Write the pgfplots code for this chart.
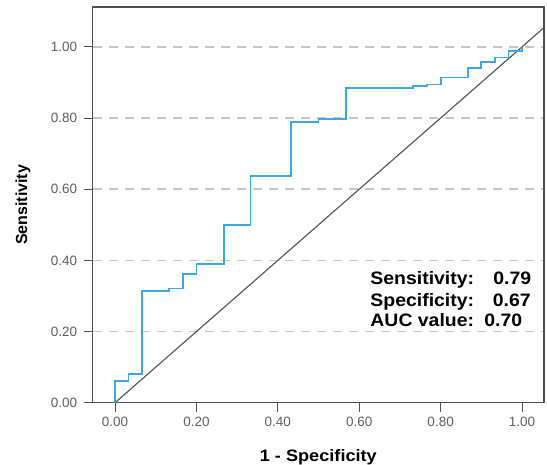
\documentclass[border=0pt]{standalone}
\usepackage{pgfplots}
\pgfplotsset{compat=1.18}
\usepackage{fontspec}
\setmainfont{Liberation Sans}
\definecolor{roc}{RGB}{62,168,228}
\definecolor{tickgray}{RGB}{95,95,95}
\definecolor{framegray}{RGB}{80,80,80}
\newcommand{\wide}[1]{\scalebox{1.1}[1]{#1}}
\begin{document}
\begin{tikzpicture}
\path[use as bounding box] (-92.7pt,-62.3pt) rectangle (454.3pt,402.7pt);
\begin{axis}[
    scale only axis,
    width=451.3pt,
    height=395.7pt,
    xmin=-0.055, xmax=1.054,
    ymin=0, ymax=1.112,
    xtick={0,0.2,0.4,0.6,0.8,1},
    ytick={0,0.2,0.4,0.6,0.8,1},
    xtick pos=bottom,
    ytick pos=left,
    tick align=outside,
    major tick length=9pt,
    tick style={framegray, line width=0.9pt},
    axis line style={framegray, line width=1.4pt},
    ymajorgrids,
    grid style={gray!45, line width=1.4pt, dash pattern=on 9pt off 7pt},
    ticklabel style={font=\fontsize{13.5}{15}\selectfont, text=tickgray},
    xticklabel style={yshift=-2pt},
    yticklabel style={xshift=-3pt},
    /pgf/number format/fixed,
    /pgf/number format/fixed zerofill,
    /pgf/number format/precision=2,
    /pgf/number format/assume math mode=true,
    xlabel={\wide{1 - Specificity}},
    ylabel={Sensitivity},
    xlabel style={font=\bfseries\fontsize{16.5}{18}\selectfont,
        at={(axis description cs:0.5,-0.137)}, anchor=center},
    ylabel style={font=\bfseries\fontsize{16}{18}\selectfont,
        at={(axis description cs:-0.1545,0.5)}, anchor=center},
]

% reference line
\addplot[framegray, line width=1.1pt] coordinates {(0,0) (1.06,1.06)};

% ROC curve
\addplot[const plot, roc, line width=1.8pt] coordinates {
    (0,0)
    (0,0.062)
    (0.033,0.080)
    (0.067,0.315)
    (0.133,0.321)
    (0.167,0.361)
    (0.200,0.390)
    (0.267,0.499)
    (0.333,0.638)
    (0.433,0.788)
    (0.500,0.797)
    (0.567,0.885)
    (0.733,0.889)
    (0.767,0.894)
    (0.800,0.914)
    (0.867,0.941)
    (0.900,0.958)
    (0.933,0.970)
    (0.967,0.988)
    (1.000,1.000)
};

\begin{scope}[every node/.style={anchor=base west, inner sep=0pt,
        font=\bfseries\fontsize{18}{20}\selectfont}]
\node at (axis cs:0.627,0.331) {\scalebox{1.08}[1]{Sensitivity:}};
\node at (axis cs:0.929,0.331) {\scalebox{1.08}[1]{0.79}};
\node at (axis cs:0.627,0.271) {\scalebox{1.08}[1]{Specificity:}};
\node at (axis cs:0.928,0.271) {\scalebox{1.08}[1]{0.67}};
\node at (axis cs:0.627,0.213) {\scalebox{1.08}[1]{AUC value:}};
\node at (axis cs:0.907,0.213) {\scalebox{1.08}[1]{0.70}};
\end{scope}

\end{axis}
\end{tikzpicture}
\end{document}
